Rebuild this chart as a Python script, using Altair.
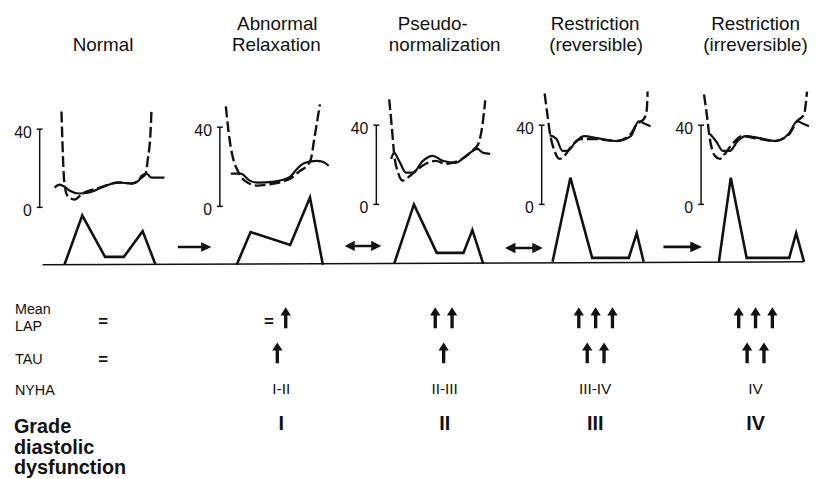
import altair as alt
import pandas as pd

# ---------------- data ----------------
TITLE_LINE1 = ["", "Abnormal", "Pseudo-", "Restriction", "Restriction"]
TITLE_LINE2 = ["Normal", "Relaxation", "normalization", "(reversible)", "(irreversible)"]

# LV pressure (dashed): (time offset, mmHg)
LV_1 = [(22, 49), (25, 12), (28, 6), (35, 4), (43, 7), (60, 10), (80, 12.7), (93, 12.2), (103, 15.2), (107, 17.2), (109, 23.8), (112, 39), (113, 50.6)]
LV_2 = [(6, 50.5), (10, 33), (14, 23), (18, 18), (25, 13), (38, 10.5), (48, 11), (63, 12.5), (71, 14), (81, 18), (88, 20.5), (92, 24), (95, 33), (101, 51.5)]
LV_3 = [(13, 53), (16, 37), (18, 25.5), (22, 16), (27, 12), (33, 14), (40, 17), (50, 20.5), (60, 22), (70, 20.5), (83, 22), (97, 27), (103, 30.5), (107, 39.5), (110, 52.5)]
LV_4 = [(3, 56), (6, 44.5), (8, 37), (13, 27), (18, 23), (23, 24.5), (28, 28), (40, 33), (53, 33), (76, 32), (90, 35.5), (96, 40.5), (103, 43), (106, 47), (107, 57)]
LV_5 = [(3, 55.5), (6, 44.5), (8, 36), (14, 24.5), (19, 23), (24, 25.5), (30, 29.5), (42, 34.5), (59, 33), (75, 32), (89, 35.5), (97, 42), (104, 45.5), (107, 57)]

# LA pressure (solid): (time offset, mmHg)
LA_1 = [(15, 10.1), (20, 11.6), (25, 10.6), (30, 8.6), (40, 7.1), (50, 7.6), (67, 11.1), (80, 12.7), (93, 12.2), (100, 13.7), (103, 16.2), (108, 17.2), (113, 15.2), (120, 15.2), (126, 15.2)]
LA_2 = [(11, 16.5), (21, 16.5), (30, 13), (38, 12), (55, 12.5), (71, 15), (78, 19), (86, 22), (98, 23), (104, 22.5), (110, 20.5)]
LA_3 = [(15, 23), (18, 26), (23, 22), (30, 16), (37, 16), (47, 22), (57, 24.5), (67, 22), (80, 21), (93, 25.5), (102, 28), (108, 26), (115, 25.5)]
LA_4 = [(8, 35), (15, 33), (21, 27), (26, 27), (35, 32), (43, 34.5), (56, 33.5), (76, 32), (90, 34.5), (98, 42), (103, 41), (110, 39.5)]
LA_5 = [(9, 35.5), (15, 32), (22, 27), (29, 27), (37, 32), (45, 34.5), (59, 33.5), (75, 32), (89, 36), (97, 42), (102, 41), (109, 39.5)]

# Mitral inflow Doppler (E / A waves): (time offset, relative velocity)
DOP_1 = [(25, 0), (43, 50), (66, 8), (85, 8), (104, 34), (117, 0)]
DOP_2 = [(17, 0), (31, 33), (71, 20), (91, 68), (104, 0)]
DOP_3 = [(18, 0), (38, 60), (61, 11), (88, 11), (97, 34), (108, 0)]
DOP_4 = [(11, 0), (29, 85), (51, 4), (88, 4), (96, 29), (103, 0)]
DOP_5 = [(18, 0), (30, 85), (46, 4), (89, 4), (96, 29), (104, 0)]

AXIS_TICKS = [40, 0]
TRANSITIONS = ["→", "↔", "↔", "→"]

ROW_LABELS = ["Mean", "LAP", "TAU", "NYHA"]
GRADE_LABEL = ["Grade", "diastolic", "dysfunction"]
MEAN_LAP = ["=", "=↑", "↑↑", "↑↑↑", "↑↑↑"]
TAU = ["=", "↑", "↑", "↑↑", "↑↑"]
NYHA = ["", "I-II", "II-III", "III-IV", "IV"]
GRADE = ["", "I", "II", "III", "IV"]

# ---------------- layout (positions / styles) ----------------
LV = [LV_1, LV_2, LV_3, LV_4, LV_5]
LA = [LA_1, LA_2, LA_3, LA_4, LA_5]
DOP = [DOP_1, DOP_2, DOP_3, DOP_4, DOP_5]
AXIS_X = [40, 222, 380, 547, 708]
Y40 = [128, 126, 124, 124, 124]
Y0 = [207, 206, 204, 204, 204]
BASE_Y = [265, 265, 264, 262, 262]
BASELINE = (43, 265, 812, 262)
TITLE1_X = [104, 280, 437, 601, 763]
TITLE2_X = [104, 279, 449, 602, 763]
TITLE_Y = (28, 49)
TRANS_POS = [(196.5, 247, 34), (366.5, 246, 37), (529, 248, 38), (689.5, 247, 39)]
SYM_X = [104, 280, 448, 601.5, 763]
TXT_X = [104, 284, 449, 601, 763]
SYM_STEP = 17
LAP_ARROW_Y, TAU_ARROW_Y = 318.5, 354
LAP_EQ_Y, TAU_EQ_Y = 328, 366
ROW_LABEL_Y = [315, 332, 365, 397]
NYHA_Y = 395
GRADE_Y = 432
GRADE_LABEL_Y = [435, 456, 476]

INK = "#111111"
FONT = "Liberation Sans"
UP_PATH = "M0,-1 L0.5,-0.22 L0.16,-0.22 L0.16,1 L-0.16,1 L-0.16,-0.22 L-0.5,-0.22 Z"
RIGHT_PATH = "M-1,-0.07 L0.39,-0.07 L0.39,-0.28 L1,0 L0.39,0.28 L0.39,0.07 L-1,0.07 Z"
BOTH_PATH = ("M-1,0 L-0.45,-0.28 L-0.45,-0.07 L0.45,-0.07 L0.45,-0.28 L1,0 "
             "L0.45,0.28 L0.45,0.07 L-0.45,0.07 L-0.45,0.28 Z")

XS = alt.Scale(domain=[8, 817], nice=False, zero=False)
YS = alt.Scale(domain=[479, 8], nice=False, zero=False)


def X(f="x"):
    return alt.X(f"{f}:Q", scale=XS, axis=None)


def Y(f="y"):
    return alt.Y(f"{f}:Q", scale=YS, axis=None)


# ---------------- tables ----------------
curve_rows = []
for i in range(5):
    k = (Y0[i] - Y40[i]) / 40.0
    for name, pts in (("LV", LV[i]), ("LA", LA[i])):
        for j, (t, p) in enumerate(pts):
            curve_rows.append({"series": f"{name}{i}", "kind": name, "ord": j,
                               "x": AXIS_X[i] + t, "y": Y0[i] - p * k})
    for j, (t, v) in enumerate(DOP[i]):
        curve_rows.append({"series": f"D{i}", "kind": "DOP", "ord": j,
                           "x": AXIS_X[i] + t, "y": BASE_Y[i] - v})
curves = pd.DataFrame(curve_rows)

rule_rows = [{"x": BASELINE[0], "y": BASELINE[1], "x2": BASELINE[2], "y2": BASELINE[3]}]
label_rows = []
for i in range(5):
    k = (Y0[i] - Y40[i]) / 40.0
    rule_rows.append({"x": AXIS_X[i], "y": Y40[i], "x2": AXIS_X[i], "y2": Y0[i]})
    for v in AXIS_TICKS:
        yy = Y0[i] - v * k
        rule_rows.append({"x": AXIS_X[i] - 3, "y": yy, "x2": AXIS_X[i] + 3, "y2": yy})
        label_rows.append({"text": str(v), "x": AXIS_X[i] - 8, "y": yy + 9})
rules = pd.DataFrame(rule_rows)
axis_labels = pd.DataFrame(label_rows)

trans = pd.DataFrame([{"kind": k, "x": p[0], "y": p[1], "size": p[2] ** 2}
                      for k, p in zip(TRANSITIONS, TRANS_POS)])

arrow_rows, eq_rows = [], []
for i in range(5):
    for syms, ay, ey in ((MEAN_LAP[i], LAP_ARROW_Y, LAP_EQ_Y), (TAU[i], TAU_ARROW_Y, TAU_EQ_Y)):
        n = len(syms)
        for j, s in enumerate(syms):
            xx = SYM_X[i] + (j - (n - 1) / 2) * SYM_STEP
            if s == "↑":
                arrow_rows.append({"x": xx, "y": ay})
            else:
                eq_rows.append({"text": s, "x": xx, "y": ey})
arrows = pd.DataFrame(arrow_rows)
eqs = pd.DataFrame(eq_rows)

titles = pd.DataFrame(
    [{"text": t, "x": TITLE1_X[i], "y": TITLE_Y[0]} for i, t in enumerate(TITLE_LINE1) if t]
    + [{"text": t, "x": TITLE2_X[i], "y": TITLE_Y[1]} for i, t in enumerate(TITLE_LINE2) if t])
row_labels = pd.DataFrame([{"text": t, "x": 15, "y": ROW_LABEL_Y[i]} for i, t in enumerate(ROW_LABELS)])
grade_label = pd.DataFrame([{"text": t, "x": 14, "y": GRADE_LABEL_Y[i]} for i, t in enumerate(GRADE_LABEL)])
nyha = pd.DataFrame([{"text": t, "x": TXT_X[i], "y": NYHA_Y} for i, t in enumerate(NYHA) if t])
grade = pd.DataFrame([{"text": t, "x": TXT_X[i], "y": GRADE_Y} for i, t in enumerate(GRADE) if t])

# ---------------- layers ----------------
lv_layer = alt.Chart(curves).transform_filter(alt.datum.kind == "LV").mark_line(
    color=INK, strokeWidth=2.4, strokeDash=[11, 4], interpolate="monotone"
).encode(x=X(), y=Y(), detail="series:N", order="ord:Q")

la_layer = alt.Chart(curves).transform_filter(alt.datum.kind == "LA").mark_line(
    color=INK, strokeWidth=2.2, interpolate="monotone"
).encode(x=X(), y=Y(), detail="series:N", order="ord:Q")

dop_layer = alt.Chart(curves).transform_filter(alt.datum.kind == "DOP").mark_line(
    color=INK, strokeWidth=2.6, strokeJoin="miter"
).encode(x=X(), y=Y(), detail="series:N", order="ord:Q")

rule_layer = alt.Chart(rules).mark_rule(color=INK, strokeWidth=1.5).encode(
    x=X(), y=Y(), x2=alt.X2("x2:Q"), y2=alt.Y2("y2:Q"))

axis_text = alt.Chart(axis_labels).mark_text(
    align="right", baseline="alphabetic", font=FONT, fontSize=16, color=INK
).encode(x=X(), y=Y(), text="text:N")

trans_layer = alt.Chart(trans).mark_point(filled=True, color=INK, opacity=1, strokeWidth=0).encode(
    x=X(), y=Y(),
    shape=alt.Shape("kind:N", scale=alt.Scale(domain=["→", "↔"], range=[RIGHT_PATH, BOTH_PATH]), legend=None),
    size=alt.Size("size:Q", scale=None, legend=None))

arrow_layer = alt.Chart(arrows).mark_point(
    shape=UP_PATH, filled=True, color=INK, opacity=1, strokeWidth=0, size=441
).encode(x=X(), y=Y())

eq_layer = alt.Chart(eqs).mark_text(
    align="center", baseline="alphabetic", font=FONT, fontSize=17, fontWeight="bold", color=INK
).encode(x=X(), y=Y(), text="text:N")

title_layer = alt.Chart(titles).mark_text(
    align="center", baseline="alphabetic", font=FONT, fontSize=19, color=INK
).encode(x=X(), y=Y(), text="text:N")

row_layer = alt.Chart(row_labels).mark_text(
    align="left", baseline="alphabetic", font=FONT, fontSize=14.5, color=INK
).encode(x=X(), y=Y(), text="text:N")

nyha_layer = alt.Chart(nyha).mark_text(
    align="center", baseline="alphabetic", font=FONT, fontSize=15.5, color=INK
).encode(x=X(), y=Y(), text="text:N")

grade_layer = alt.Chart(grade).mark_text(
    align="center", baseline="alphabetic", font=FONT, fontSize=20, fontWeight="bold", color=INK
).encode(x=X(), y=Y(), text="text:N")

grade_label_layer = alt.Chart(grade_label).mark_text(
    align="left", baseline="alphabetic", font=FONT, fontSize=20, fontWeight="bold", color=INK
).encode(x=X(), y=Y(), text="text:N")

chart = alt.layer(
    rule_layer, la_layer, lv_layer, dop_layer, axis_text, trans_layer, arrow_layer,
    eq_layer, title_layer, row_layer, nyha_layer, grade_layer, grade_label_layer
).properties(
    width=809, height=471, padding=0, background="white",
    autosize=alt.AutoSizeParams(type="none")
).configure_view(stroke=None)

chart.save("out.html", embed_options={"renderer": "svg", "actions": False})
